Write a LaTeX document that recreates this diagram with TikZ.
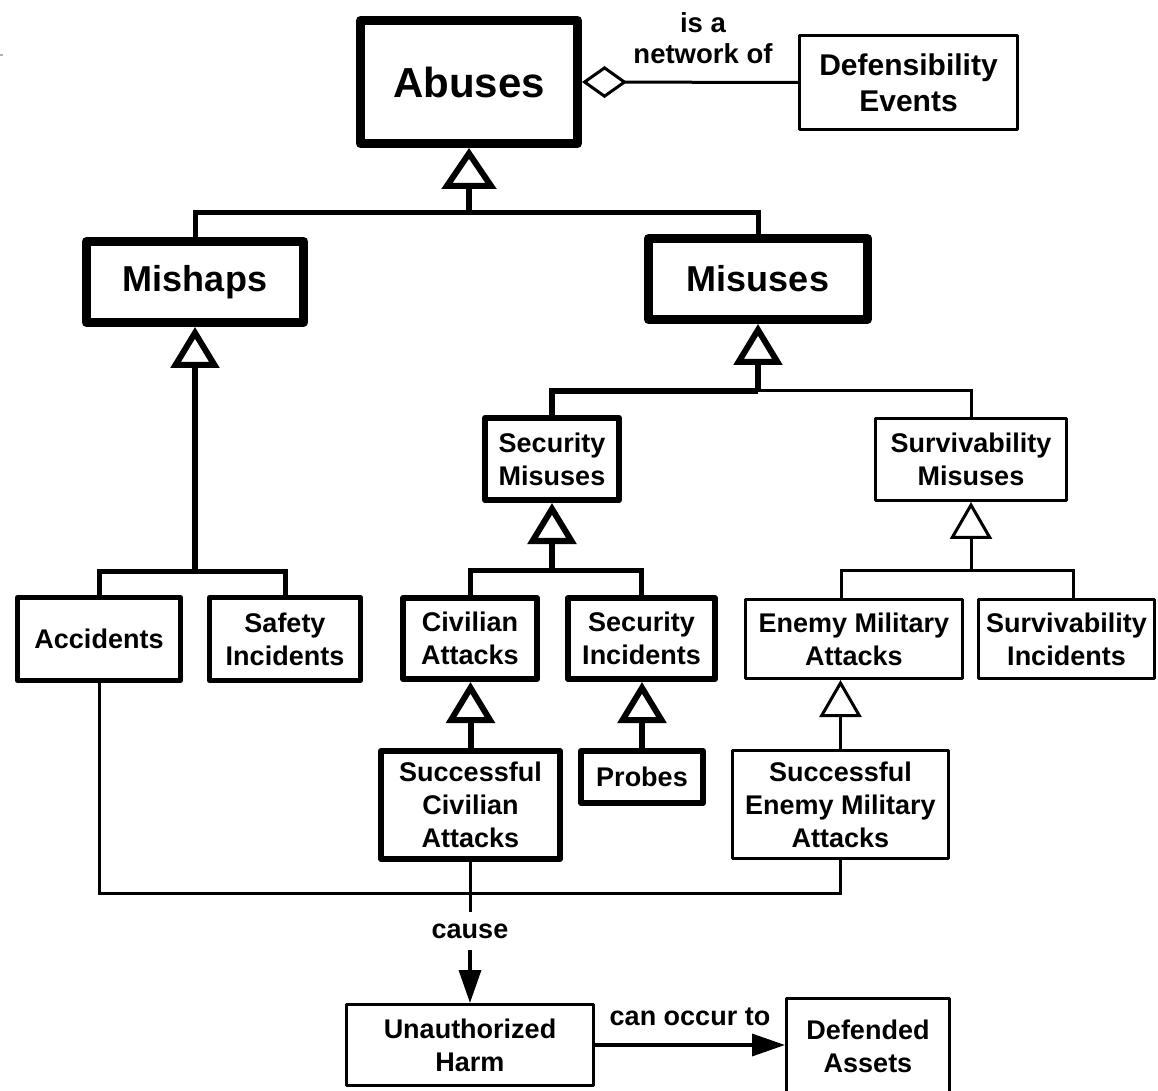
\documentclass[tikz,border=0pt]{standalone}
\usepackage{fontspec}
\setmainfont{Liberation Sans}
\usetikzlibrary{arrows.meta,calc}
\begin{document}
\begin{tikzpicture}[x=0.5pt,y=-0.5pt,
  wh/.style 2 args={minimum width=#1*0.5pt, minimum height=#2*0.5pt},
  box/.style={draw, line join=round, align=center, inner sep=0pt,
    font=\bfseries\fontsize{13.5pt}{16.5pt}\selectfont},
  heavy/.style={box, line width=4.5pt},
  medium/.style={box, line width=3pt},
  mediumthin/.style={box, line width=2.5pt},
  light/.style={box, line width=1.5pt},
  big/.style={font=\bfseries\fontsize{18pt}{22pt}\selectfont},
  lbl/.style={align=center, inner xsep=0pt, inner ysep=5.5pt,
    font=\bfseries\fontsize{13.5pt}{15.5pt}\selectfont},
  bar/.style={line width=2.5pt, line join=miter},
  barthick/.style={line width=3pt, line join=miter},
  thinline/.style={line width=1.5pt, line join=miter},
  genbig/.style={-{Triangle[open, length=20.5pt, width=27pt]}, line width=3pt},
  genthick/.style={-{Triangle[open, length=20.5pt, width=24pt]}, line width=3pt},
  genthin/.style={-{Triangle[open, length=18.5pt, width=21pt]}, line width=1.5pt},
  solidarrow/.style={-{Triangle[length=16.5pt, width=11pt]}, line width=1.75pt},
]
\fill[white] (0,0) rectangle (1158,1091);
\useasboundingbox (0,0) rectangle (1158,1091);

% small grey tick in the left margin
\draw[gray!60, line width=1pt] (0,55) -- (3,55);

% ---- boxes ----
\node[heavy, wh={217}{123}, font=\bfseries\fontsize{21pt}{25pt}\selectfont] (abuses) at (469,82) {Abuses};
\node[light, wh={218}{94}, font=\bfseries\fontsize{15pt}{18pt}\selectfont] (defev) at (908.5,82.5) {Defensibility\\Events};
\node[heavy, big, wh={217}{81}] (mishaps) at (195,282) {Mishaps};
\node[heavy, big, wh={219}{81}] (misuses) at (758,279) {Misuses};
\node[medium, wh={134}{82}] (secmis) at (552,459) {Security\\Misuses};
\node[light, wh={191}{82}] (survmis) at (971,459.5) {Survivability\\Misuses};
\node[mediumthin, wh={163}{83}] (accid) at (99,639) {Accidents};
\node[mediumthin, wh={151}{83}] (safety) at (285,639) {Safety\\Incidents};
\node[medium, wh={134}{81}] (civatt) at (470,638.5) {Civilian\\Attacks};
\node[medium, wh={147}{81}] (secinc) at (641.5,638.5) {Security\\Incidents};
\node[light, wh={217}{79}] (enemy) at (854,639) {Enemy Military\\Attacks};
\node[light, wh={176}{79}] (survinc) at (1066.5,639) {Survivability\\Incidents};
\node[medium, wh={179}{108}] (succiv) at (470.5,805) {Successful\\Civilian\\Attacks};
\node[medium, wh={122}{52}] (probes) at (642,777) {Probes};
\node[light, wh={216}{108}] (sucmil) at (840.5,804.5) {Successful\\Enemy Military\\Attacks};
\node[light, wh={247}{81}] (harm) at (470,1045) {Unauthorized\\Harm};
\node[light, wh={163}{96}] (assets) at (868,1046.5) {Defended\\Assets};

% ---- aggregation ----
\draw[thinline, {Diamond[open, length=22.5pt, width=16pt]}-] (abuses.east) -- (defev.west);
\node[lbl, font=\bfseries\fontsize{13.75pt}{15.5pt}\selectfont] (isa) at (703,38) {is a\\network of};

% ---- generalisation: Abuses ----
\coordinate (abj) at (469,213);
\draw[bar] (mishaps.north) |- (abj) -| (misuses.north);
\draw[genbig] (abj) -- (abuses.south);

% ---- Mishaps ----
\coordinate (mij) at (195,571);
\draw[bar] (accid.north) |- (mij) -| (safety.north);
\draw[genthick] (mij) -- (mishaps.south);

% ---- Misuses ----
\coordinate (muj) at (758,391);
\draw[barthick] (secmis.north) |- (muj);
\draw[thinline] (muj) -| (survmis.north);
\draw[genthick] (muj) -- (misuses.south);

% ---- Security Misuses ----
\coordinate (smj) at (552,570);
\draw[bar] (civatt.north) |- (smj) -| (secinc.north);
\draw[genthick] (smj) -- (secmis.south);

% ---- Survivability Misuses ----
\coordinate (svj) at (971,570);
\draw[thinline] ($(enemy.north)+(-13,0)$) |- (svj) -| ($(survinc.north)+(6.5,0)$);
\draw[genthin] (svj) -- (survmis.south);

% ---- leaf specialisations ----
\draw[genthick] (succiv.north) -- (succiv.north |- civatt.south);
\draw[genthick] (probes.north) -- (probes.north |- secinc.south);
\draw[genthin] (sucmil.north) -- (sucmil.north |- enemy.south);

% ---- causes of harm ----
\coordinate (hbar) at (0,893);
\draw[thinline] (accid.south) |- (sucmil.south |- hbar) -- (sucmil.south);
\node[lbl] (cause) at (470,931) {cause};
\draw[thinline] (cause.north -| succiv.south) -- (succiv.south);
\draw[solidarrow] (cause.south) -- (harm.north);

% ---- harm to assets ----
\node[lbl] (occur) at (690,1017) {can occur to};
\draw[solidarrow] (harm.east) -- (harm.east -| assets.west);
\end{tikzpicture}
\end{document}
